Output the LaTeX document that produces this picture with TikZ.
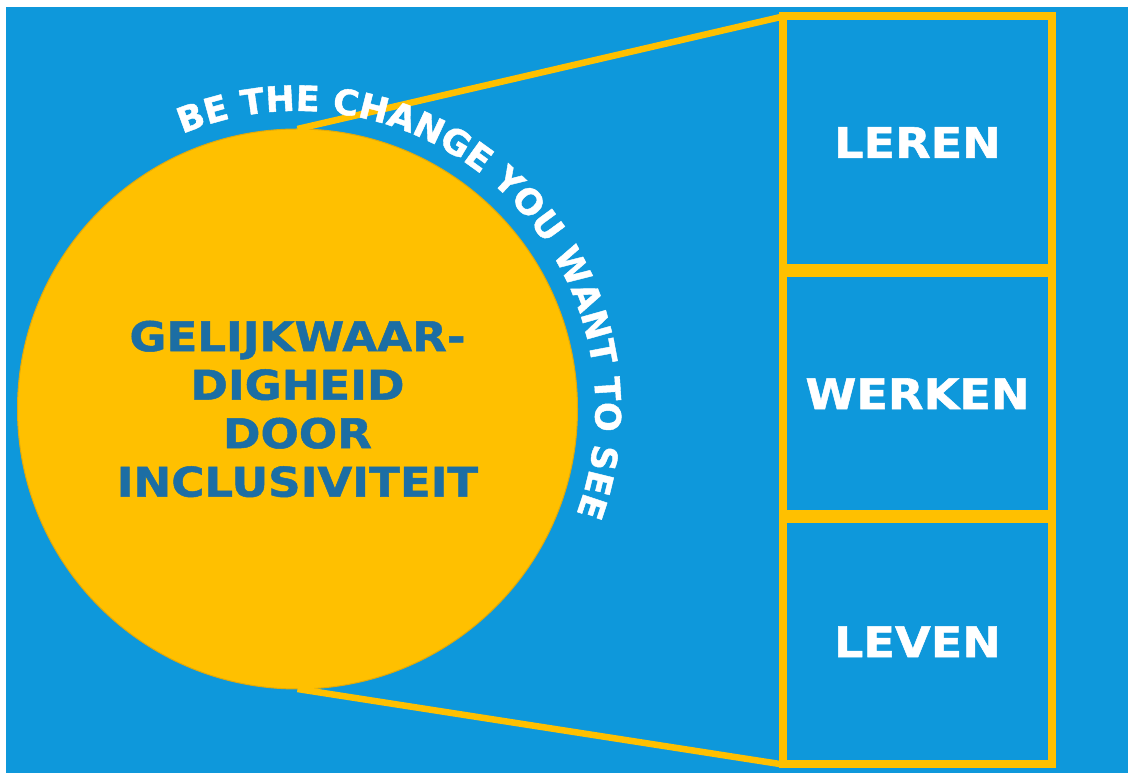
\documentclass[tikz,border=0pt]{standalone}
\usepackage{fontspec}
\setmainfont{DejaVu Sans}
\newfontfamily\heavy{DejaVu Sans Bold}[FakeBold=1.2]
\newfontfamily\heavywide{DejaVu Sans Bold}[FakeBold=1.2, FakeStretch=1.1]
\usetikzlibrary{decorations.text}
\definecolor{bgblue}{RGB}{14,152,219}
\definecolor{sun}{RGB}{255,192,0}
\definecolor{sunedge}{RGB}{226,170,10}
\definecolor{darkblue}{RGB}{28,110,164}
\newcommand\arcfont{\fontsize{35}{40}\selectfont\heavy}
\tikzset{
  stagebox/.style={draw=sun, line width=8pt, minimum width=269pt, text=white,
    font=\fontsize{42}{50}\selectfont\heavywide, inner sep=0pt, outer sep=0pt},
  link/.style={draw=sun, line width=6.5pt},
}
\begin{document}
\begin{tikzpicture}[x=1pt,y=1pt]
\useasboundingbox (0,0) rectangle (1128,773);
\fill[white] (0,0) rectangle (1128,773);
\fill[bgblue] (6,0) rectangle (1128,766);
% boxes
\node[stagebox, minimum height=252pt] (leren) at (917.5,630.5) {LEREN};
\node[stagebox, minimum height=240.5pt] (werken) at (917.5,379.25) {WERKEN};
\node[stagebox, minimum height=245.5pt] (leven) at (917.5,131.25) {LEVEN};
% circle
\node[circle, fill=sun, draw=sunedge, line width=1pt, minimum size=560pt, inner sep=0pt, outer sep=0pt,
  text=darkblue, align=center, font=\fontsize{41}{48.5}\selectfont\heavywide] (c) at (297.5,364)
  {GELIJKWAAR-\\DIGHEID\\DOOR\\INCLUSIVITEIT};
% connectors
\draw[link] (c.north) -- (leren.north west);
\draw[link] (c.south) -- (leven.south west);
% curved text
\path[decorate, decoration={text along path, text align=center,
  text={|\arcfont\color{white}|BE THE CHANGE YOU WANT TO SEE}}]
  (c.center) ++(120:298pt) arc[start angle=120, end angle=-28, radius=298pt];
\end{tikzpicture}
\end{document}
